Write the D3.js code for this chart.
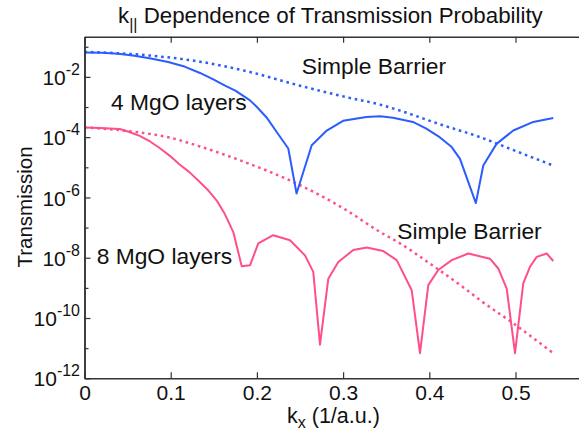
<!DOCTYPE html>
<html>
<head>
<meta charset="utf-8">
<script src="https://cdn.jsdelivr.net/npm/d3@7"></script>
<style>
  body { margin: 0; background: #fff; }
  svg { display: block; font-family: "Liberation Sans", Arial, sans-serif; }
</style>
</head>
<body>
<div id="canvas"></div>
<script>
"use strict"

/* Values */

// 4 MgO layers (blue, solid)
let kBlue = [0, 0.02, 0.039, 0.058, 0.077, 0.097, 0.116, 0.134, 0.15, 0.163, 0.175, 0.192,
    0.2, 0.211, 0.225, 0.2364, 0.246, 0.2636,
    0.281, 0.300, 0.327, 0.343, 0.358, 0.381, 0.396, 0.412, 0.426, 0.4356, 0.454, 0.4626,
    0.478, 0.4974, 0.5206, 0.5438];
let tBlue = [6.5e-2, 6.3e-2, 5.9e-2, 5.0e-2, 4.1e-2, 3.1e-2, 2.2e-2, 1.35e-2, 8.1e-3, 5.1e-3, 3.5e-3, 1.66e-3,
    1.0e-3, 4.6e-4, 1.23e-4, 4.2e-5, 1.35e-6, 5.4e-5,
    1.66e-4, 3.5e-4, 4.7e-4, 4.9e-4, 4.4e-4, 3.2e-4, 1.95e-4, 1.0e-4, 4.7e-5, 1.9e-5, 6.5e-7, 1.15e-5,
    6.0e-5, 1.66e-4, 3.2e-4, 4.3e-4];

// simple barrier, 4 layers (blue, dotted)
let kBlueBarrier = [0, 0.076, 0.134, 0.192, 0.25, 0.308, 0.343, 0.366, 0.412, 0.459, 0.5, 0.5435];
let tBlueBarrier = [6.8e-2, 5.1e-2, 3.2e-2, 1.45e-2, 5.1e-3, 2.0e-3, 1.2e-3, 7.6e-4, 2.7e-4, 1.0e-4, 3.5e-5, 1.15e-5];

// 8 MgO layers (pink, solid)
let kRed = [0, 0.018, 0.041, 0.052, 0.064, 0.076, 0.0876, 0.099, 0.11, 0.122, 0.134, 0.144,
    0.1534, 0.163, 0.1726, 0.1824, 0.192, 0.2016,
    0.219, 0.2384, 0.2558, 0.2654, 0.2732, 0.2828, 0.2944, 0.3118, 0.3274, 0.3466, 0.3622,
    0.3796, 0.3892, 0.3988, 0.4104, 0.426, 0.4452, 0.4704, 0.48, 0.4898, 0.4994, 0.509,
    0.5168, 0.5246, 0.5362, 0.5438];
let tRed = [2.1e-4, 2.0e-4, 1.86e-4, 1.48e-4, 1.1e-4, 7.2e-5, 4.3e-5, 2.4e-5, 1.26e-5, 6.8e-6, 3.2e-6, 1.66e-6,
    7.9e-7, 2.75e-7, 7.1e-8, 5.2e-9, 5.6e-9, 3.0e-8,
    5.6e-8, 3.8e-8, 1.2e-8, 3.4e-9, 1.3e-11, 2.0e-9, 7.2e-9, 1.8e-8, 2.2e-8, 1.66e-8, 8.3e-9,
    8.3e-10, 6.8e-12, 1.23e-9, 3.9e-9, 8.3e-9, 1.38e-8, 9.3e-9, 4.4e-9, 9.5e-10, 6.8e-12, 1.4e-9,
    5.0e-9, 1.07e-8, 1.38e-8, 7.8e-9];

// simple barrier, 8 layers (pink, dotted)
let kRedBarrier = [0, 0.05, 0.1, 0.134, 0.19, 0.246, 0.300, 0.343, 0.366, 0.40, 0.444, 0.459, 0.497, 0.5435];
let tRedBarrier = [2.1e-4, 1.6e-4, 9.5e-5, 4.9e-5, 1.35e-5, 2.9e-6, 4.4e-7, 7.1e-8, 3.0e-8, 6.6e-9, 8.3e-10, 3.9e-10, 6.8e-11, 6.9e-12];

// axis ticks
let xTicks = [0, 0.1, 0.2, 0.3, 0.4, 0.5];
let yMajorExp = [-2, -4, -6, -8, -10, -12];
let yMinorExp = [-1, -3, -5, -7, -9, -11];

let blue = "#2b5cff";
let pink = "#ff4f86";
let axisColor = "#333";

let W = 579, H = 437;

let drawing = d3.select("#canvas")
    .append("svg")
    .attr("width", W)
    .attr("height", H);

/* scales */
let x = d3.scaleLinear()
    .domain([0, 0.574])
    .range([84.5, 579.3]);

let y = d3.scaleLog()
    .domain([1e-12, Math.pow(10, -0.67)])
    .range([378.3, 36.8]);

/* lines */
let solidLine = d3.line()
    .x(d => x(d[0]))
    .y(d => y(d[1]));

let smoothLine = d3.line()
    .x(d => x(d[0]))
    .y(d => y(d[1]))
    .curve(d3.curveMonotoneX);

function pairs(ks, ts) {
    return ks.map((k, i) => [k, ts[i]]);
}

drawing.append("path")
    .attr("d", smoothLine(pairs(kBlueBarrier, tBlueBarrier)))
    .attr("fill", "none")
    .attr("stroke", blue)
    .attr("stroke-width", 2.5)
    .attr("stroke-dasharray", "2.6,3.8");

drawing.append("path")
    .attr("d", smoothLine(pairs(kRedBarrier, tRedBarrier)))
    .attr("fill", "none")
    .attr("stroke", pink)
    .attr("stroke-width", 2.5)
    .attr("stroke-dasharray", "2.6,3.8");

drawing.append("path")
    .attr("d", solidLine(pairs(kBlue, tBlue)))
    .attr("fill", "none")
    .attr("stroke", blue)
    .attr("stroke-width", 2)
    .attr("stroke-linejoin", "round");

drawing.append("path")
    .attr("d", solidLine(pairs(kRed, tRed)))
    .attr("fill", "none")
    .attr("stroke", pink)
    .attr("stroke-width", 2)
    .attr("stroke-linejoin", "round");

/* axes */
let bottomAxis = drawing.append("g")
    .attr("transform", "translate(0," + y.range()[0] + ")")
    .call(d3.axisBottom(x)
        .tickValues(xTicks)
        .tickSize(-6)
        .tickSizeOuter(0)
        .tickPadding(7)
        .tickFormat(d => d === 0 ? "0" : d3.format(".1f")(d)));

let topAxis = drawing.append("g")
    .attr("transform", "translate(0," + y.range()[1] + ")")
    .call(d3.axisTop(x)
        .tickValues(xTicks)
        .tickSize(-6)
        .tickSizeOuter(0)
        .tickFormat(""));

let leftMinor = drawing.append("g")
    .attr("transform", "translate(" + x(0) + ",0)")
    .call(d3.axisLeft(y)
        .tickValues(yMinorExp.map(e => Math.pow(10, e)))
        .tickSize(-4)
        .tickSizeOuter(0)
        .tickFormat(""));

let leftAxis = drawing.append("g")
    .attr("transform", "translate(" + x(0) + ",0)")
    .call(d3.axisLeft(y)
        .tickValues(yMajorExp.map(e => Math.pow(10, e)))
        .tickSize(-6)
        .tickSizeOuter(0)
        .tickPadding(4.5));

/* y tick labels as 10 with a superscript exponent */
leftAxis.selectAll(".tick text").each(function(d, i) {
    let t = d3.select(this);
    t.text(null).attr("dy", "0.36em");
    t.append("tspan").text("10");
    t.append("tspan")
        .attr("font-size", 16)
        .attr("dy", "-0.62em")
        .text(yMajorExp[i]);
});

[bottomAxis, topAxis, leftMinor, leftAxis].forEach(g => {
    g.selectAll("path.domain").attr("stroke", axisColor).attr("stroke-width", 1.5);
    g.selectAll(".tick line").attr("stroke", axisColor).attr("stroke-width", 1.2);
    g.selectAll(".tick text")
        .attr("fill", "#111")
        .attr("font-size", 21)
        .attr("font-family", "Liberation Sans, Arial, sans-serif");
});

/* title */
let title = drawing.append("text")
    .attr("x", 118)
    .attr("y", 23)
    .attr("font-size", 22.3)
    .attr("fill", "#111");
title.append("tspan").text("k");
title.append("tspan").attr("font-size", 16).attr("dy", 6.6).text("||");
title.append("tspan").attr("dy", -6.6).text(" Dependence of Transmission Probability");

/* axis labels */
let xLabel = drawing.append("text")
    .attr("x", 287)
    .attr("y", 423)
    .attr("font-size", 21.5)
    .attr("fill", "#111");
xLabel.append("tspan").text("k");
xLabel.append("tspan").attr("font-size", 16).attr("dy", 5).text("x");
xLabel.append("tspan").attr("dy", -5).text(" (1/a.u.)");

drawing.append("text")
    .attr("transform", "translate(32,207) rotate(-90)")
    .attr("text-anchor", "middle")
    .attr("font-size", 20.5)
    .attr("fill", "#111")
    .text("Transmission");

/* curve annotations */
let notes = [
    ["Simple Barrier", 301.7, 74.3],
    ["4 MgO layers", 111, 110],
    ["8 MgO layers", 96.7, 264.3],
    ["Simple Barrier", 397.3, 239.3]
];

drawing.selectAll("text.note")
    .data(notes)
    .enter()
    .append("text")
    .attr("class", "note")
    .attr("x", d => d[1])
    .attr("y", d => d[2])
    .attr("font-size", 22.8)
    .attr("fill", "#111")
    .text(d => d[0]);
</script>
</body>
</html>
